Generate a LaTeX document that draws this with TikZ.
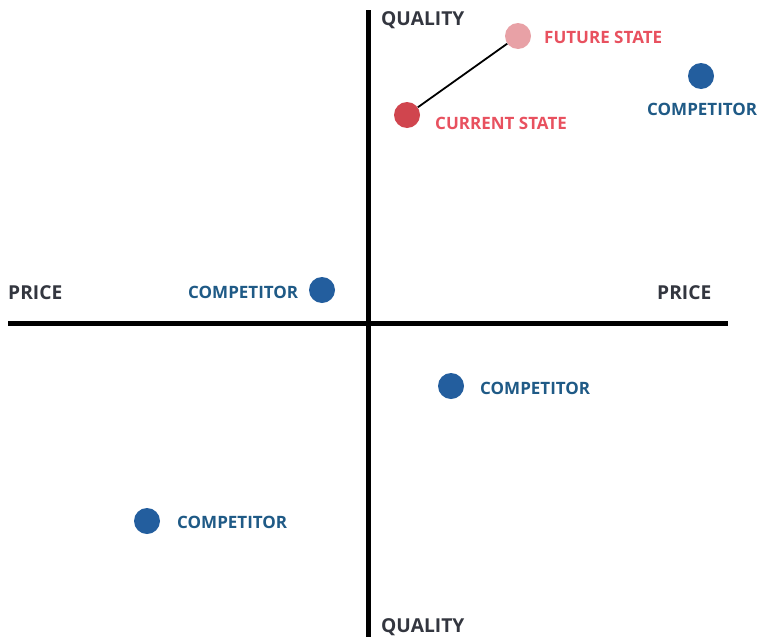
\documentclass[tikz,border=0pt]{standalone}
\usepackage{fontspec}
\setmainfont{Open Sans}
\begin{document}
\begin{tikzpicture}[x=1pt,y=-1pt,
  lbl/.style={font=\bfseries\fontsize{17}{20}\selectfont, inner sep=0pt, anchor=west},
  axis/.style={lbl, font=\bfseries\fontsize{19.2}{22}\selectfont, text=axistext},
  comp/.style={lbl, text=comptext},
  st/.style={lbl, text=statetext},
  dot/.style={circle, minimum size=26pt, inner sep=0pt},
  axisline/.style={line width=5pt, black}]
\definecolor{axistext}{HTML}{33363F}
\definecolor{comptext}{HTML}{1F5A86}
\definecolor{compdot}{HTML}{235E9E}
\definecolor{statetext}{HTML}{E8515F}
\definecolor{curdot}{HTML}{D0454E}
\definecolor{futdot}{HTML}{E8A1A6}
\useasboundingbox (0,0) rectangle (757,637);
% axes
\coordinate (vt) at (368.5,10);
\coordinate (vb) at (368.5,637);
\coordinate (hl) at (8,323);
\coordinate (hr) at (728,323);
\draw[axisline] (vt) -- (vb);
\draw[axisline] (hl) -- (hr);
% axis labels
\node[axis] (qt) at (381,20) {QUALITY};
\node[axis] (qb) at (381,627) {QUALITY};
\node[axis] (pl) at (8,293) {PRICE};
\node[axis] (pr) at (657,293) {PRICE};
% state dots
\node[dot, fill=futdot] (fut) at (518,36) {};
\node[dot, fill=curdot] (cur) at (407,115) {};
\draw[line width=1.8pt] (cur) -- (fut);
\node[st] (futl) at (544,37) {FUTURE STATE};
\node[st] (curl) at (435,123) {CURRENT STATE};
% competitors
\node[dot, fill=compdot] (c1) at (701,76) {};
\node[comp] (c1l) at (647,109) {COMPETITOR};
\node[dot, fill=compdot] (c2) at (322,290) {};
\node[comp] (c2l) at (188,292) {COMPETITOR};
\node[dot, fill=compdot] (c3) at (451,386) {};
\node[comp] (c3l) at (480,388) {COMPETITOR};
\node[dot, fill=compdot] (c4) at (147,521) {};
\node[comp] (c4l) at (177,522) {COMPETITOR};
\end{tikzpicture}
\end{document}
